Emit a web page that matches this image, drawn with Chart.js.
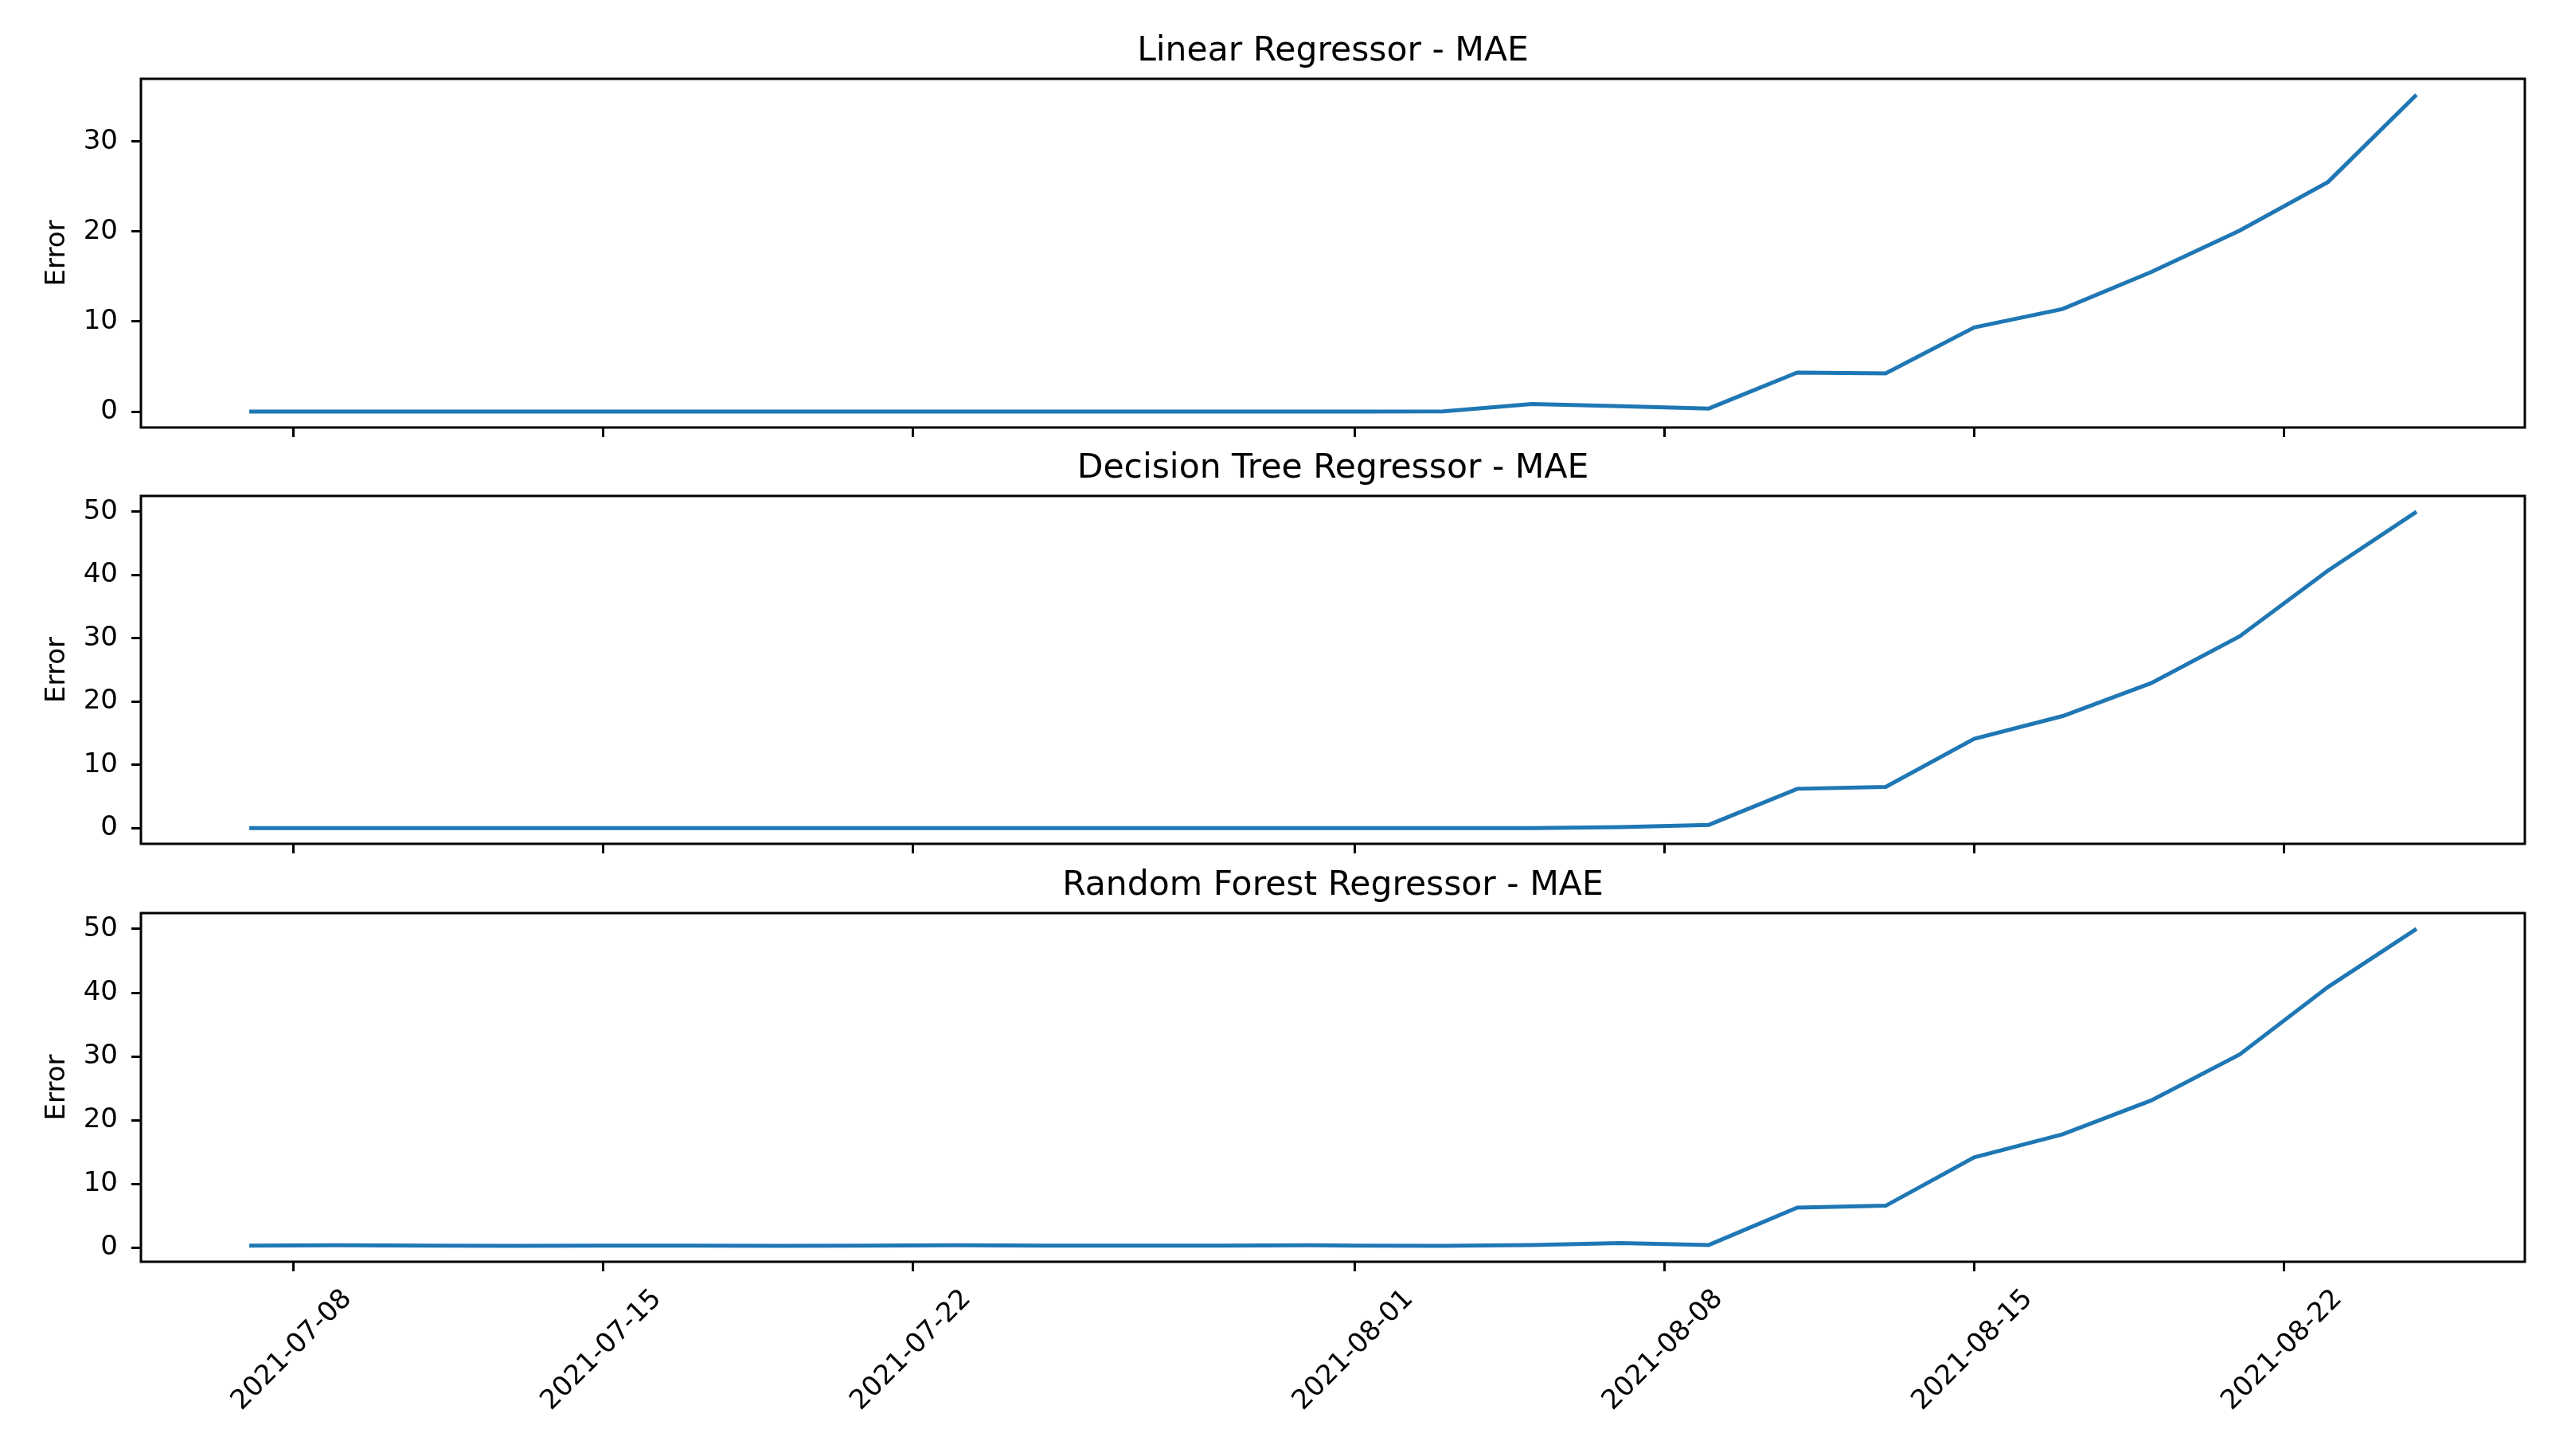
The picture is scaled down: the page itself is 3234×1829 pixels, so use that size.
<!DOCTYPE html>
<html lang="en">
<head>
<meta charset="UTF-8" />
<title>Regressor MAE</title>
<script src="https://cdn.jsdelivr.net/npm/chart.js"></script>
<style>
  html, body { margin: 0; padding: 0; background: #fff; }
  body { width: 3234px; height: 1829px; position: relative; overflow: hidden; }
  .panel { position: absolute; left: 0; width: 3234px; }
</style>
</head>
<body>
<div class="panel" id="p1"><canvas id="c1"></canvas></div>
<div class="panel" id="p2"><canvas id="c2"></canvas></div>
<div class="panel" id="p3"><canvas id="c3"></canvas></div>

<script>
const dates = [
  '2021-07-07','2021-07-09','2021-07-11','2021-07-13','2021-07-15','2021-07-17','2021-07-19',
  '2021-07-21','2021-07-23','2021-07-25','2021-07-27','2021-07-29','2021-07-31','2021-08-01',
  '2021-08-03','2021-08-05','2021-08-07','2021-08-09','2021-08-11','2021-08-13','2021-08-15',
  '2021-08-17','2021-08-19','2021-08-21','2021-08-23','2021-08-25'
];
const linearMae = [0,0,0,0,0,0,0,0,0,0,0,0,0,0, 0.02,0.85,0.6,0.35,4.35,4.25,9.35,11.4,15.5,20.1,25.5,35.2];
const treeMae = [0,0,0,0,0,0,0,0,0,0,0,0,0,0,0,0, 0.15,0.5,6.2,6.5,14.1,17.7,22.9,30.3,40.7,50.0];
const forestMae = [0.35,0.4,0.35,0.3,0.35,0.35,0.3,0.35,0.4,0.35,0.35,0.35,0.4,0.35,0.3,
  0.45,0.75,0.45,6.3,6.6,14.2,17.8,23.1,30.3,40.9,50.0];
const tickDates = ['2021-07-08','2021-07-15','2021-07-22','2021-08-01','2021-08-08','2021-08-15','2021-08-22'];
const titles = ['Linear Regressor - MAE', 'Decision Tree Regressor - MAE', 'Random Forest Regressor - MAE'];

const FONT = 'DejaVu Sans';
const BLUE = '#1f77b4';
const TICK_FONT = 34;
const TITLE_FONT = 42.5;
const day0 = Date.parse('2021-07-08');
const toDay = s => (Date.parse(s) - day0) / 864e5;
const xs = dates.map(toDay);
const tickVals = tickDates.map(toDay);

// matplotlib style 5% margins
function padRange(vals) {
  const lo = Math.min(...vals), hi = Math.max(...vals), m = (hi - lo) * 0.05;
  return [lo - m, hi + m];
}
const [xMin, xMax] = padRange(xs);

// box around the plot area (all four spines)
const frame = {
  id: 'frame',
  afterDraw(chart) {
    const a = chart.chartArea, ctx = chart.ctx;
    ctx.save();
    ctx.strokeStyle = '#000';
    ctx.lineWidth = 3;
    ctx.strokeRect(a.left, a.top, a.right - a.left, a.bottom - a.top);
    ctx.restore();
  }
};

const TITLE_H = 60;
const panels = [
  { id: 'c1', box: 'p1', values: linearMae, top: 99, bottom: 537, axisH: 14, labels: false },
  { id: 'c2', box: 'p2', values: treeMae, top: 623, bottom: 1060, axisH: 14, labels: false },
  { id: 'c3', box: 'p3', values: forestMae, top: 1147, bottom: 1585, axisH: 244, labels: true }
];

panels.forEach((p, i) => {
  const canvasTop = p.top - TITLE_H;
  const h = (p.bottom - p.top) + TITLE_H + p.axisH;
  const box = document.getElementById(p.box);
  box.style.top = canvasTop + 'px';
  box.style.height = h + 'px';
  const cv = document.getElementById(p.id);
  cv.width = 3234;
  cv.height = h;
  cv.style.width = '3234px';
  cv.style.height = h + 'px';

  const [yMin, yMax] = padRange(p.values);

  new Chart(cv.getContext('2d'), {
    type: 'line',
    data: {
      datasets: [{
        data: p.values.map((v, k) => ({ x: xs[k], y: v })),
        borderColor: BLUE,
        borderWidth: 5,
        pointRadius: 0,
        tension: 0,
        fill: false
      }]
    },
    options: {
      animation: false,
      responsive: false,
      devicePixelRatio: 1,
      layout: { padding: { left: 0, right: 63, top: 0, bottom: 0 } },
      plugins: {
        legend: { display: false },
        tooltip: { enabled: false },
        title: {
          display: true,
          text: titles[i],
          fullSize: false,
          color: '#000',
          font: { family: FONT, size: TITLE_FONT, weight: 'normal', lineHeight: 1.2 },
          padding: { top: 0, bottom: TITLE_H - TITLE_FONT * 1.2 }
        }
      },
      scales: {
        x: {
          type: 'linear',
          min: xMin,
          max: xMax,
          border: { display: false },
          grid: { display: true, drawOnChartArea: false, drawTicks: true, tickLength: 12, tickWidth: 3, tickColor: '#000' },
          ticks: {
            display: p.labels,
            autoSkip: false,
            minRotation: 45,
            maxRotation: 45,
            labelOffset: 68,
            padding: 15,
            color: '#000',
            font: { family: FONT, size: TICK_FONT },
            callback: v => tickDates[tickVals.indexOf(v)] || ''
          },
          afterBuildTicks(s) { s.ticks = tickVals.map(v => ({ value: v })); },
          afterFit(s) { s.height = p.axisH; s.paddingLeft = 0; s.paddingRight = 0; }
        },
        y: {
          min: yMin,
          max: yMax,
          border: { display: false },
          grid: { display: true, drawOnChartArea: false, drawTicks: true, tickLength: 12, tickWidth: 3, tickColor: '#000' },
          ticks: {
            stepSize: 10,
            includeBounds: false,
            padding: 17,
            color: '#000',
            font: { family: FONT, size: TICK_FONT }
          },
          title: {
            display: true,
            text: 'Error',
            color: '#000',
            font: { family: FONT, size: TICK_FONT },
            padding: { top: 52, bottom: 0 }
          },
          afterFit(s) { s.width = 177; s.paddingTop = 0; s.paddingBottom = 0; }
        }
      }
    },
    plugins: [frame]
  });
});
</script>
</body>
</html>
